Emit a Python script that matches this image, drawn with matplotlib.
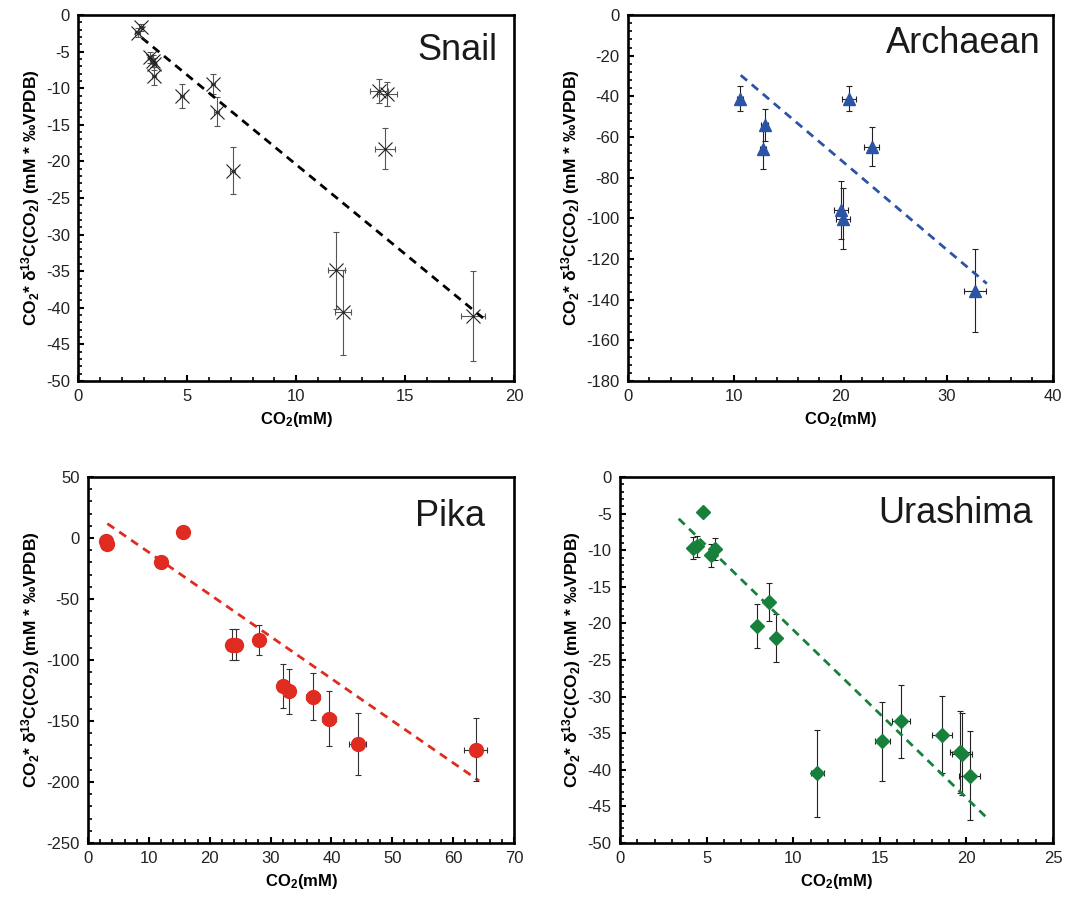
import matplotlib
matplotlib.use("Agg")
import matplotlib.pyplot as plt
from matplotlib.ticker import MultipleLocator

plt.rcParams['font.family'] = ['Liberation Sans', 'DejaVu Sans']
plt.rcParams['mathtext.fontset'] = 'custom'
plt.rcParams['mathtext.rm'] = 'Liberation Sans'
plt.rcParams['mathtext.bf'] = 'Liberation Sans:bold'
plt.rcParams['mathtext.default'] = 'bf'
plt.rcParams['axes.unicode_minus'] = False

# --- Snail
snail_x = [2.72, 2.88, 3.29, 3.44, 3.47, 3.47, 4.77, 6.19, 6.35, 7.08, 13.81, 14.17, 14.08, 11.85, 12.16, 18.12]
snail_y = [-2.4, -1.7, -5.8, -6.3, -6.7, -8.3, -11.1, -9.45, -13.2, -21.3, -10.4, -10.8, -18.3, -34.9, -40.6, -41.1]
snail_yerr = [0.6, 0.5, 0.8, 0.8, 0.8, 1.2, 1.66, 1.4, 2.0, 3.2, 1.6, 1.6, 2.8, 5.2, 5.8, 6.1]
snail_xerr = [0.1, 0.1, 0.1, 0.1, 0.1, 0.1, 0.1, 0.1, 0.1, 0.1, 0.42, 0.45, 0.44, 0.37, 0.38, 0.54]
snail_fit_x = [2.91, 18.66]
snail_fit_y = [-3.1, -41.6]

# --- Archaean
arch_x = [10.52, 12.86, 12.68, 20.78, 22.94, 20.03, 20.28, 32.65]
arch_y = [-41.1, -54.2, -66.1, -41.1, -64.9, -96.0, -100.1, -135.6]
arch_yerr = [6.0, 8.0, 9.4, 6.0, 9.6, 14.2, 15.0, 20.3]
arch_xerr = [0.3, 0.3, 0.3, 0.66, 0.7, 0.67, 0.66, 1.0]
arch_fit_x = [10.61, 33.77]
arch_fit_y = [-29.6, -132.1]

# --- Pika
pika_x = [2.9, 3.18, 12.03, 15.57, 23.67, 24.3, 28.15, 32.1, 32.95, 36.95, 39.57, 44.3, 63.7]
pika_y = [-2.5, -5.2, -19.7, 4.9, -87.4, -87.4, -83.6, -121.3, -125.7, -130.0, -148.0, -168.8, -173.4]
pika_yerr = [0, 0, 0, 0, 13.0, 13.0, 12.6, 18.0, 18.7, 19.4, 22.3, 25.3, 26.0]
pika_xerr = [0, 0, 0, 0, 0.3, 0.3, 0.4, 0.6, 0.8, 1.1, 1.2, 1.37, 1.9]
pika_fit_x = [3.18, 64.26]
pika_fit_y = [11.8, -199.0]

# --- Urashima
ura_x = [4.8, 4.22, 4.45, 5.25, 5.48, 7.9, 8.63, 9.02, 11.4, 15.14, 16.23, 18.6, 19.65, 19.75, 20.18]
ura_y = [-4.8, -9.7, -9.45, -10.7, -9.8, -20.4, -17.1, -22.0, -40.5, -36.1, -33.4, -35.2, -37.6, -37.8, -40.8]
ura_yerr = [0.55, 1.5, 1.45, 1.6, 1.5, 3.0, 2.6, 3.3, 6.0, 5.4, 5.0, 5.3, 5.6, 5.6, 6.1]
ura_xerr = [0.2, 0.15, 0.15, 0.15, 0.15, 0.15, 0.2, 0.2, 0.35, 0.44, 0.5, 0.58, 0.58, 0.58, 0.61]
ura_fit_x = [3.39, 21.2]
ura_fit_y = [-5.7, -46.6]

ylab = r'CO$_2$* δ$^{13}$C(CO$_2$) (mM * ‰VPDB)'
xlab = r'CO$_2$(mM)'

W, H = 1067, 902
fig = plt.figure(figsize=(W / 100, H / 100), dpi=100)


def make_ax(l, r, t, b):
    return fig.add_axes([l / W, 1 - b / H, (r - l) / W, (b - t) / H])


def style(ax, xlim, ylim, xmaj, xmin, ymaj, ymin, title, tx, ty):
    ax.set_xlim(*xlim)
    ax.set_ylim(*ylim)
    ax.xaxis.set_major_locator(MultipleLocator(xmaj))
    ax.xaxis.set_minor_locator(MultipleLocator(xmin))
    ax.yaxis.set_major_locator(MultipleLocator(ymaj))
    ax.yaxis.set_minor_locator(MultipleLocator(ymin))
    ax.tick_params(which='both', direction='in', top=False, right=False, labelsize=12,
                   pad=6, labelcolor='#222222')
    ax.tick_params(which='major', length=4.5, width=1.5)
    ax.tick_params(which='minor', length=3, width=1.2)
    for s in ax.spines.values():
        s.set_linewidth(1.9)
    ax.set_xlabel(xlab, fontsize=12, fontweight='bold', labelpad=4)
    ax.set_ylabel(ylab, fontsize=12.5, fontweight='bold', labelpad=3)
    ax.text(tx, ty, title, transform=ax.transAxes, ha='right', va='baseline', fontsize=26, color='#1a1a1a')


ebkw = dict(linestyle='none', elinewidth=0.8, capsize=2.5, capthick=0.8)

# Snail
ax = make_ax(78.3, 514, 15, 381)
ax.errorbar(snail_x, snail_y, yerr=snail_yerr, xerr=snail_xerr, fmt='x', color='#222222',
            ecolor='#555555', ms=10, mew=0.8, **ebkw)
ax.plot(snail_fit_x, snail_fit_y, color='black', lw=2, dashes=(3, 2.2))
style(ax, (0, 20), (-50, 0), 5, 1, 5, 1, 'Snail', 0.961, 0.877)

# Archaean
blue = '#2b54a6'
ax = make_ax(628, 1053, 15, 381)
ax.errorbar(arch_x, arch_y, yerr=arch_yerr, xerr=arch_xerr, fmt='^', color=blue,
            ecolor='#222222', ms=8, **ebkw)
ax.plot(arch_fit_x, arch_fit_y, color=blue, lw=2, dashes=(3, 2.2))
style(ax, (0, 40), (-180, 0), 10, 2, 20, 4, 'Archaean', 0.972, 0.896)

# Pika
red = '#e02b20'
ax = make_ax(88, 514, 477, 843)
ax.errorbar(pika_x, pika_y, yerr=pika_yerr, xerr=pika_xerr, fmt='o', color=red,
            ecolor='#333333', ms=10, zorder=3, **ebkw)
ax.plot(pika_fit_x, pika_fit_y, color=red, lw=2, dashes=(3, 2.2))
style(ax, (0, 70), (-250, 50), 10, 2, 50, 10, 'Pika', 0.932, 0.866)

# Urashima
green = '#17813c'
ax = make_ax(620, 1053, 477, 843)
ax.errorbar(ura_x, ura_y, yerr=ura_yerr, xerr=ura_xerr, fmt='D', color=green,
            ecolor='#222222', ms=7, **ebkw)
ax.plot(ura_fit_x, ura_fit_y, color=green, lw=2, dashes=(3, 2.2))
style(ax, (0, 25), (-50, 0), 5, 1, 5, 1, 'Urashima', 0.954, 0.874)

fig.savefig('out.png', dpi=100)
